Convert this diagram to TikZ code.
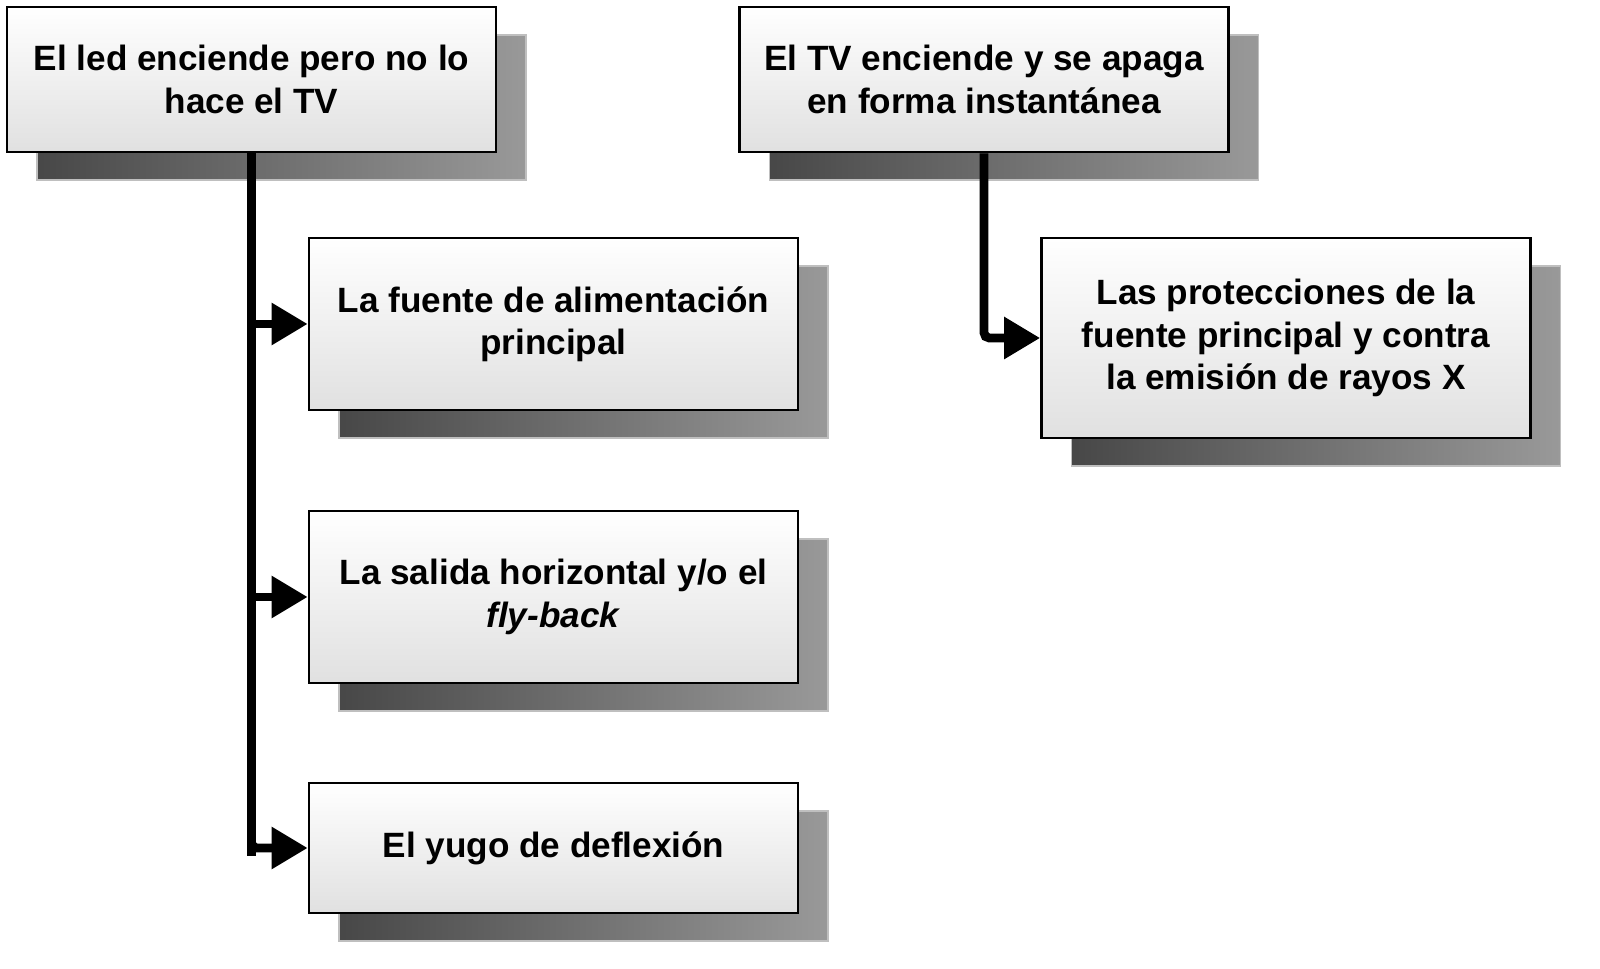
\documentclass[tikz,border=0pt]{standalone}
\usepackage{fontspec}
\setmainfont{Liberation Sans}
\usetikzlibrary{%
  arrows.meta,%
  shadows,%
  calc%
}
\tikzset{
  cajon/.style={draw=black,line width=1.5pt,top color=white,bottom color=black!12,
    minimum width=9.78cm,align=center,
    font=\fontsize{20}{24}\selectfont\bfseries,
    general shadow={shadow xshift=0.6cm,shadow yshift=-0.56cm,opacity=1,
      left color=black!72,right color=black!40,draw=black!25,line width=1pt}},
  rama/.style={line width=5pt,-{Triangle[length=0.72cm,width=0.8cm]}}
}
\begin{document}
\begin{tikzpicture}
\useasboundingbox (0,0) rectangle (32,-19.38);
\node[cajon,minimum height=2.9cm] (led) at (5.03,-1.59) {El led enciende pero no lo\\hace el TV};
\node[cajon,minimum height=2.9cm] (tv) at (19.68,-1.59) {El TV enciende y se apaga\\en forma instantánea};
\node[cajon,minimum height=3.44cm] (fuente) at (11.07,-6.48) {La fuente de alimentación\\principal};
\node[cajon,minimum height=3.44cm] (salida) at (11.07,-11.94) {La salida horizontal y/o el\\\textit{fly-back}};
\node[cajon,minimum height=2.6cm] (yugo) at (11.07,-16.96) {El yugo de deflexión};
\node[cajon,minimum height=4cm] (prot) at (25.72,-6.76) {Las protecciones de la\\fuente principal y contra\\la emisión de rayos X};

\draw[line width=5pt] (led.south) -- ($(led.south)+(0,-14.05)$);
\draw[rama] (led.south |- fuente.west) -- (fuente.west);
\draw[rama] (led.south |- salida.west) -- (salida.west);
\draw[rama,rounded corners=3pt] (led.south) |- (yugo.west);
\draw[rama,rounded corners=3pt] (tv.south) |- (prot.west);
\end{tikzpicture}
\end{document}
